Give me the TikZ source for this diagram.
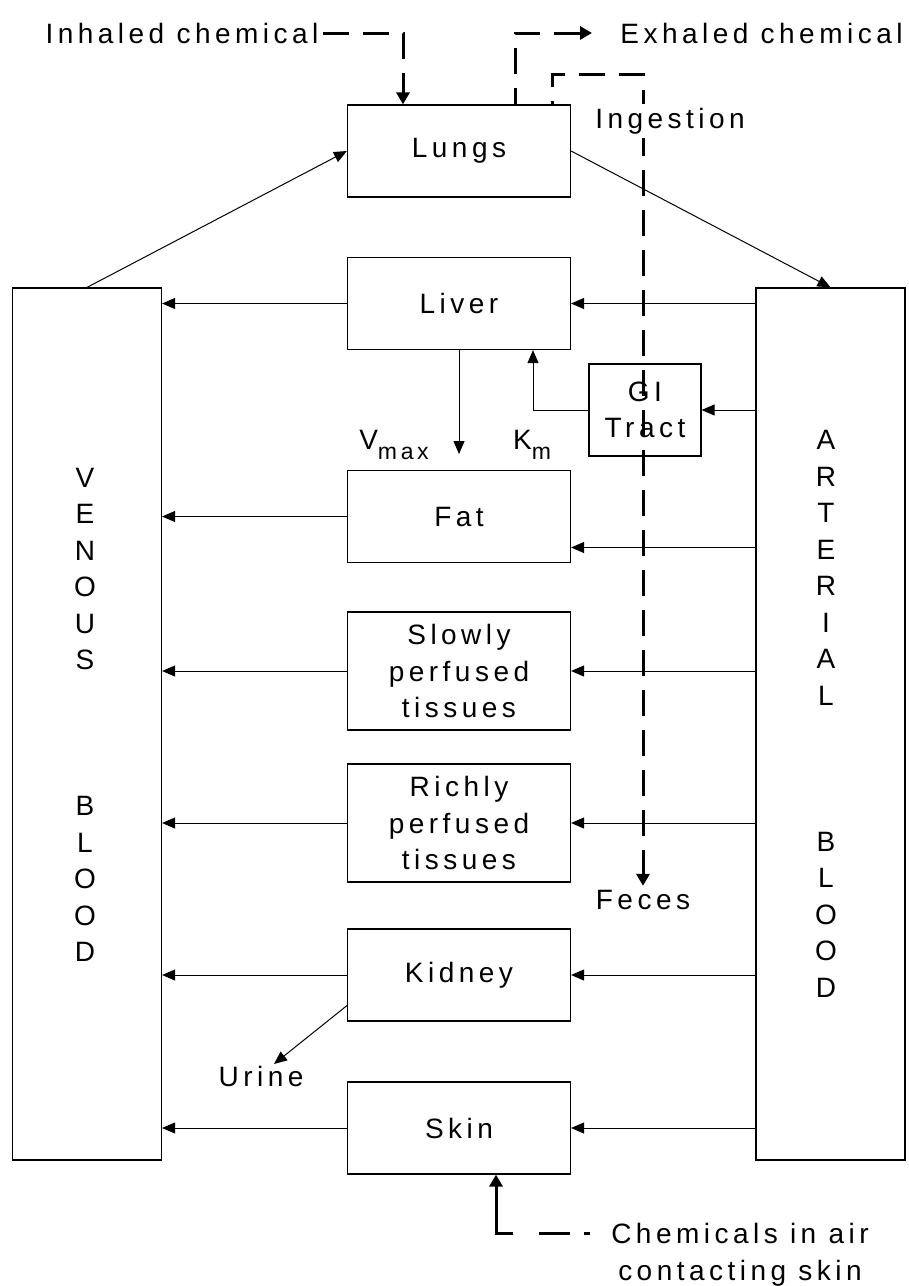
\documentclass[tikz,border=0pt]{standalone}
\usepackage{fontspec}
\setmainfont{Liberation Sans}[LetterSpace=16]
\usetikzlibrary{arrows.meta}

\tikzset{
  organ/.style={draw, line width=0.6pt, minimum width=111.5pt, minimum height=46pt, align=center, inner sep=1pt},
  tall/.style={minimum height=59pt},
  pool/.style={draw, line width=0.6pt, minimum width=74.5pt, minimum height=436pt},
  tag/.style={inner sep=2pt, align=center},
  flow/.style={line width=0.5pt, -{Triangle[length=6.5pt,width=5.5pt]}},
  exposure/.style={line width=1.5pt, dash pattern=on 13pt off 7pt, -{Triangle[length=6pt,width=6.5pt]}},
}

\begin{document}
\begin{tikzpicture}[x=0.5pt, y=-0.5pt, font=\fontsize{14}{18.25}\selectfont]
\useasboundingbox (0,0) rectangle (909,1286);
% blood pools
\node[pool] (venous) at (87,724) {};
\node[pool] (arterial) at (830.5,724) {};
\node[tag] (venoustext) at (85,715) {V\\E\\N\\O\\U\\S\\[54.75pt]B\\L\\O\\O\\D};
\node[tag] (arterialtext) at (826,714) {A\\R\\T\\E\\R\\I\\A\\L\\[54.75pt]B\\L\\O\\O\\D};

% organs
\node[organ] (lungs) at (459,151) {Lungs};
\node[organ] (liver) at (459,303.5) {Liver};
\node[organ, minimum width=56pt] (gi) at (645,410) {GI\\Tract};
\node[organ] (fat) at (459,516.5) {Fat};
\node[organ, tall] (slowly) at (459,671) {Slowly\\perfused\\tissues};
\node[organ, tall] (richly) at (459,823) {Richly\\perfused\\tissues};
\node[organ] (kidney) at (459,975) {Kidney};
\node[organ] (skin) at (459,1128) {Skin};

% labels
\node[tag] (inhaled) at (182,33) {Inhaled chemical};
\node[tag] (exhaled) at (761.5,33) {Exhaled chemical};
\node[tag] (feces) at (643,900) {Feces};
\node[tag] (urine) at (261,1076) {Urine};
\node[tag] (vmax) at (394,445) {V\lower5pt\hbox{\fontsize{11.5}{12}\selectfont max}};
\node[tag] (km) at (532,445) {K\lower5pt\hbox{\fontsize{11.5}{12}\selectfont m}};
\node[tag] (chemicals) at (740,1254.5) {Chemicals in air\\contacting skin};
\coordinate (metab) at (459,454);
\coordinate (urineend) at (274,1064);
\coordinate (fatin) at ([yshift=-15.5pt]fat.east);

% blood flow
\draw[flow] (venous.north) -- (lungs.west);
\draw[flow] (lungs.east) -- (arterial.north);
\foreach \organ in {liver, slowly, richly, kidney, skin} {
  \draw[flow] (\organ.west) -- (venous.east |- \organ.west);
  \draw[flow] (arterial.west |- \organ.east) -- (\organ.east);
}
\draw[flow] (fat.west) -- (venous.east |- fat.west);
\draw[flow] (arterial.west |- fatin) -- (fatin);
\draw[flow] (arterial.west |- gi.east) -- (gi.east);
\draw[flow] (gi.west) -| ([xshift=37pt]liver.south);
\draw[flow] (liver.south) -- (metab);
\draw[flow] ([yshift=8pt]kidney.south west) -- (urineend);

% exposure routes
\draw[exposure] (inhaled.east) -| ([xshift=-28pt]lungs.north);
\draw[exposure, dash phase=5pt] ([xshift=28pt]lungs.north) |- ([xshift=-12pt]exhaled.west);
\draw[exposure, dash phase=11.5pt] ([xshift=46.5pt]lungs.north) -- ++(0,-30) -| (feces.north);
\node[tag, fill=white] (ingestion) at (670,121) {Ingestion};
\draw[exposure, dash pattern=on 3pt off 7pt on 15.5pt off 13pt on 100pt off 1pt]
  ([xshift=-8.5pt,yshift=10.75pt]chemicals.west) -| ([xshift=18.5pt]skin.south);
\end{tikzpicture}
\end{document}
